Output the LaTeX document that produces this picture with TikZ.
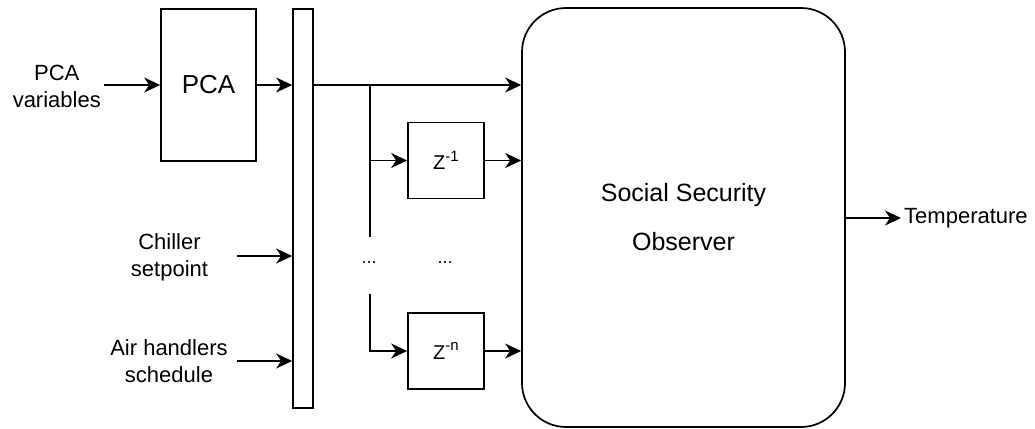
\documentclass[tikz,border=0pt]{standalone}
\usepackage{fontspec}
\setmainfont{Liberation Sans}
\usetikzlibrary{arrows.meta,calc}
\newcommand{\zsup}[1]{\raisebox{0.42em}{\fontsize{15}{15}\selectfont #1}}
\begin{document}
\begin{tikzpicture}[x=1pt,y=-1pt,
  every node/.style={inner sep=3pt},
  blk/.style={draw,line width=1.7pt,rectangle},
  lbl/.style={align=center,font=\fontsize{22}{27}\selectfont},
  zlbl/.style={font=\fontsize{20}{24}\selectfont},
  dotlbl/.style={font=\fontsize{18}{22}\selectfont},
  conn/.style={line width=1.7pt},
  arr/.style={conn,-{Stealth[length=16pt,width=15pt,inset=5pt]}}]
\useasboundingbox (0,0) rectangle (1035,428);
% blocks
\node[blk,minimum width=95pt,minimum height=152pt,font=\fontsize{26}{30}\selectfont] (pca) at (208.5,85) {PCA};
\node[blk,minimum width=20pt,minimum height=399pt] (bus) at (303,208.5) {};
\node[blk,minimum width=76pt,minimum height=76pt,zlbl] (z1) at (446,160.5) {Z\zsup{-1}};
\node[blk,minimum width=76pt,minimum height=76pt,zlbl] (zn) at (446,351) {Z\zsup{-n}};
\node[draw,line width=1.7pt,rounded corners=44pt,minimum width=323pt,minimum height=419pt,
      align=center,font=\fontsize{25}{49}\selectfont] (obs) at (683.5,217.5) {Social Security\\Observer};
% labels
\node[lbl,anchor=east] (pcavar) at (104,86) {PCA\\variables};
\node[lbl] (chiller) at (169.5,257) {Chiller\\setpoint};
\node[lbl] (air) at (169,361) {Air handlers\\schedule};
\node[lbl,anchor=west] (temp) at (901,218) {Temperature};
\node[dotlbl] (dots1) at (369,263) {...};
\node[dotlbl] (dots2) at (445,263) {...};
% coordinates
\coordinate (chin) at (237,256);
\coordinate (airin) at (237,361);
\coordinate (br) at (370,85);
\coordinate (brgap1) at (370,237);
\coordinate (brgap2) at (370,294);
% connectors
\draw[arr] (pcavar.east |- pca.west) -- (pca.west);
\draw[arr] (pca.east) -- (pca.east -| bus.west);
\draw[arr] (chin) -- (chin -| bus.west);
\draw[arr] (airin) -- (airin -| bus.west);
\draw[arr] (bus.east |- pca.east) -- (obs.west |- pca.east);
\draw[conn] (br) -- (brgap1);
\draw[arr] (br |- z1.west) -- (z1.west);
\draw[arr] (brgap2) |- (zn.west);
\draw[arr] (z1.east) -- (z1.east -| obs.west);
\draw[arr] (zn.east) -- (zn.east -| obs.west);
\draw[arr] (obs.east |- temp.west) -- (temp.west);
\end{tikzpicture}
\end{document}
